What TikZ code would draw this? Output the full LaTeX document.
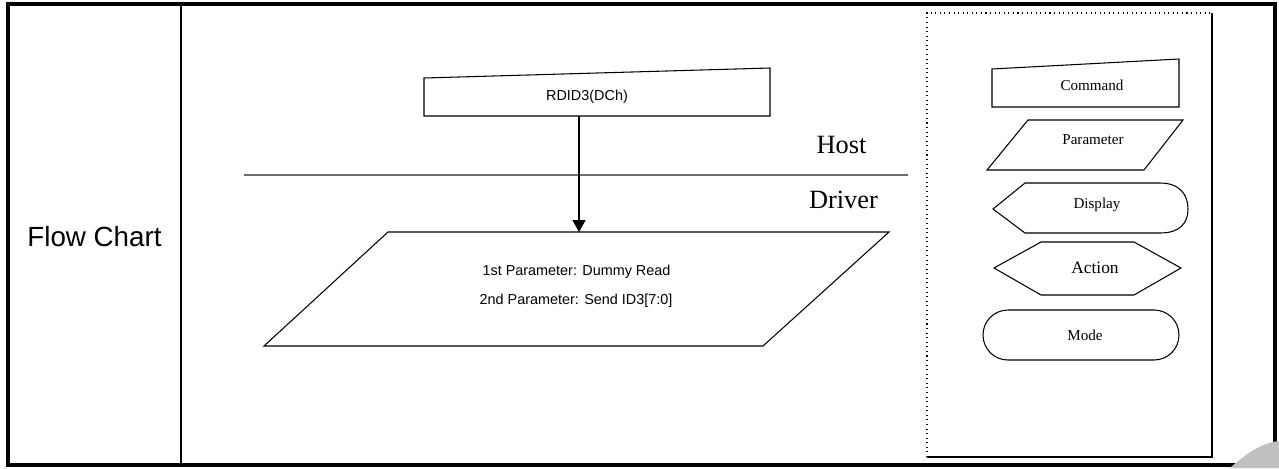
\documentclass[tikz,border=0pt]{standalone}
\usepackage{fontspec}
\setmainfont{Liberation Serif}
\setsansfont{Liberation Sans}
\usepackage{xcolor}
\usetikzlibrary{arrows.meta}
\definecolor{rulegray}{HTML}{6E6E6E}
\definecolor{cornergray}{HTML}{C0C0C0}

\begin{document}
\begin{tikzpicture}[x=0.02cm, y=-0.02cm, >={Triangle[width=7.4pt, length=6.8pt]},
    shapeline/.style={draw, line width=0.6pt, line join=miter},
    sanslabel/.style={font=\sffamily\fontsize{8.2}{10}\selectfont},
    legendlabel/.style={font=\fontsize{8.6}{10}\selectfont},
    sidelabel/.style={font=\fontsize{15}{18}\selectfont}]
    \useasboundingbox (0,0) rectangle (1279,468);

    % ── Table frame ──────────────────────────────────────────────────
    \draw[line width=2.3pt] (8,4) rectangle (1275,465);
    \draw[line width=1.2pt] (181,4) -- (181,465);
    \node[font=\sffamily\fontsize{15.8}{19}\selectfont] (title) at (94.5,237) {Flow Chart};

    % ── Host / Driver flow ───────────────────────────────────────────
    \draw[shapeline] (424,78) -- (770,68) -- (770,116) -- (424,116) -- cycle;
    \node[sanslabel] (rdid) at (587,97) {RDID3(DCh)};

    \draw[rulegray, line width=0.8pt] (244,175) -- (908,175);
    \node[sidelabel] (host) at (841.5,145) {Host};
    \node[sidelabel] (driver) at (843.5,200) {Driver};

    \draw[shapeline] (388,232) -- (889,232) -- (763,346) -- (264,346) -- cycle;
    \node[sanslabel] (parm1) at (576.5,272) {1st Parameter: Dummy Read};
    \node[sanslabel] (parm2) at (576,301) {2nd Parameter: Send ID3[7:0]};

    % Arrow
    \coordinate (rdidout) at (579,116);
    \coordinate (parmin) at (579,232);
    \draw[->, line width=0.6pt] (rdidout) -- (parmin);

    % ── Legend ───────────────────────────────────────────────────────
    \draw[dotted, line width=0.6pt] (927,457) -- (927,13) -- (1212,13);
    \draw[line width=0.6pt] (1212,13) -- (1212,457) -- (927,457);

    \draw[shapeline] (992,69) -- (1179,59) -- (1179,107) -- (992,107) -- cycle;
    \node[legendlabel] (command) at (1092,85) {Command};

    \draw[shapeline] (1028,120) -- (1183,120) -- (1144,170) -- (987,170) -- cycle;
    \node[legendlabel] (parameter) at (1093,140) {Parameter};

    \draw[shapeline] (993,209) -- (1025,183) -- (1160,183)
        .. controls (1180,183) and (1188,195) .. (1188,209)
        .. controls (1188,223) and (1180,233) .. (1160,233) -- (1025,233) -- cycle;
    \node[legendlabel] (display) at (1097,205) {Display};

    \draw[shapeline] (994,268) -- (1041,242) -- (1134,242) -- (1181,268) -- (1134,295) -- (1041,295) -- cycle;
    \node[font=\fontsize{9.9}{12}\selectfont] (action) at (1095,268) {Action};

    \draw[shapeline, rounded corners=14.2pt] (983,310) rectangle (1179,360);
    \node[legendlabel] (mode) at (1085,335) {Mode};

    % Page corner
    \fill[cornergray] (1230,468) .. controls (1248,452) and (1262,443) .. (1279,441) -- (1279,468) -- cycle;
\end{tikzpicture}
\end{document}
